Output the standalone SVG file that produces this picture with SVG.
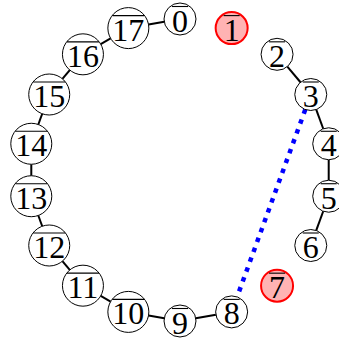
<svg xmlns="http://www.w3.org/2000/svg" width="339" height="341" viewBox="0 0 339 341">
<style>
.bg{fill:#fff}
.n circle{fill:#fff;stroke:#000;stroke-width:1}
.h circle{fill:#ffb3b3;stroke:#f00;stroke-width:2}
text{font-family:"Liberation Serif","DejaVu Serif",serif;font-size:32px;text-anchor:middle;fill:#000}
.ol{stroke:#000;stroke-width:1.1}
.e line{stroke:#000;stroke-width:2}
.e line.d{stroke:#00f;stroke-width:4.5;stroke-dasharray:4.5 6}
</style>
<rect class="bg" x="0" y="0" width="339" height="341"/>
<g id="connectors" class="e">
<line x1="148.544" y1="24.547" x2="164.243" y2="21.778"/>
<line x1="100.693" y1="44.078" x2="110.601" y2="38.357"/>
<line x1="62.407" y1="78.796" x2="69.762" y2="70.032"/>
<line x1="38.305" y1="124.515" x2="42.219" y2="113.764"/>
<line x1="31.294" y1="175.721" x2="31.294" y2="164.279"/>
<line x1="42.219" y1="226.236" x2="38.305" y2="215.485"/>
<line x1="69.762" y1="269.968" x2="62.407" y2="261.204"/>
<line x1="110.601" y1="301.643" x2="100.693" y2="295.922"/>
<line x1="164.243" y1="318.222" x2="148.544" y2="315.453"/>
<line x1="215.888" y1="314.671" x2="195.757" y2="318.222"/>
<line x1="287.346" y1="66.585" x2="300.485" y2="82.243"/>
<line x1="316.242" y1="109.535" x2="323.234" y2="128.744"/>
<line x1="328.706" y1="159.779" x2="328.706" y2="180.221"/>
<line x1="323.234" y1="211.256" x2="316.242" y2="230.465"/>
<line class="d" x1="305.298" y1="109.535" x2="237.117" y2="296.858"/>
</g>
<g id="node0" class="n"><circle cx="180" cy="19" r="16"/><line class="ol" x1="172" y1="6.5" x2="188" y2="6.5"/><text x="180" y="31.5">0</text></g>
<g id="node1" class="h"><circle cx="231.645" cy="28.107" r="16"/><line class="ol" x1="223.645" y1="15.607" x2="239.645" y2="15.607"/><text x="231.645" y="40.607">1</text></g>
<g id="node2" class="n"><circle cx="277.061" cy="54.328" r="16"/><line class="ol" x1="269.061" y1="41.828" x2="285.061" y2="41.828"/><text x="277.061" y="66.828">2</text></g>
<g id="node3" class="n"><circle cx="310.770" cy="94.5" r="16"/><line class="ol" x1="302.770" y1="82" x2="318.770" y2="82"/><text x="310.770" y="107">3</text></g>
<g id="node4" class="n"><circle cx="328.706" cy="143.779" r="16"/><line class="ol" x1="320.706" y1="131.279" x2="336.706" y2="131.279"/><text x="328.706" y="156.279">4</text></g>
<g id="node5" class="n"><circle cx="328.706" cy="196.221" r="16"/><line class="ol" x1="320.706" y1="183.721" x2="336.706" y2="183.721"/><text x="328.706" y="208.721">5</text></g>
<g id="node6" class="n"><circle cx="310.770" cy="245.5" r="16"/><line class="ol" x1="302.770" y1="233" x2="318.770" y2="233"/><text x="310.770" y="258">6</text></g>
<g id="node7" class="h"><circle cx="277.061" cy="285.672" r="16"/><line class="ol" x1="269.061" y1="273.172" x2="285.061" y2="273.172"/><text x="277.061" y="298.172">7</text></g>
<g id="node8" class="n"><circle cx="231.645" cy="311.893" r="16"/><line class="ol" x1="223.645" y1="299.393" x2="239.645" y2="299.393"/><text x="231.645" y="324.393">8</text></g>
<g id="node9" class="n"><circle cx="180" cy="321" r="16"/><line class="ol" x1="172" y1="308.5" x2="188" y2="308.5"/><text x="180" y="333.5">9</text></g>
<g id="node10" class="n"><circle cx="128.355" cy="311.893" r="20.5"/><line class="ol" x1="112.355" y1="299.393" x2="144.355" y2="299.393"/><text x="128.355" y="324.393">10</text></g>
<g id="node11" class="n"><circle cx="82.939" cy="285.672" r="20.5"/><line class="ol" x1="66.939" y1="273.172" x2="98.939" y2="273.172"/><text x="82.939" y="298.172">11</text></g>
<g id="node12" class="n"><circle cx="49.230" cy="245.5" r="20.5"/><line class="ol" x1="33.230" y1="233" x2="65.230" y2="233"/><text x="49.230" y="258">12</text></g>
<g id="node13" class="n"><circle cx="31.294" cy="196.221" r="20.5"/><line class="ol" x1="15.294" y1="183.721" x2="47.294" y2="183.721"/><text x="31.294" y="208.721">13</text></g>
<g id="node14" class="n"><circle cx="31.294" cy="143.779" r="20.5"/><line class="ol" x1="15.294" y1="131.279" x2="47.294" y2="131.279"/><text x="31.294" y="156.279">14</text></g>
<g id="node15" class="n"><circle cx="49.230" cy="94.5" r="20.5"/><line class="ol" x1="33.230" y1="82" x2="65.230" y2="82"/><text x="49.230" y="107">15</text></g>
<g id="node16" class="n"><circle cx="82.939" cy="54.328" r="20.5"/><line class="ol" x1="66.939" y1="41.828" x2="98.939" y2="41.828"/><text x="82.939" y="66.828">16</text></g>
<g id="node17" class="n"><circle cx="128.355" cy="28.107" r="20.5"/><line class="ol" x1="112.355" y1="15.607" x2="144.355" y2="15.607"/><text x="128.355" y="40.607">17</text></g>
</svg>
